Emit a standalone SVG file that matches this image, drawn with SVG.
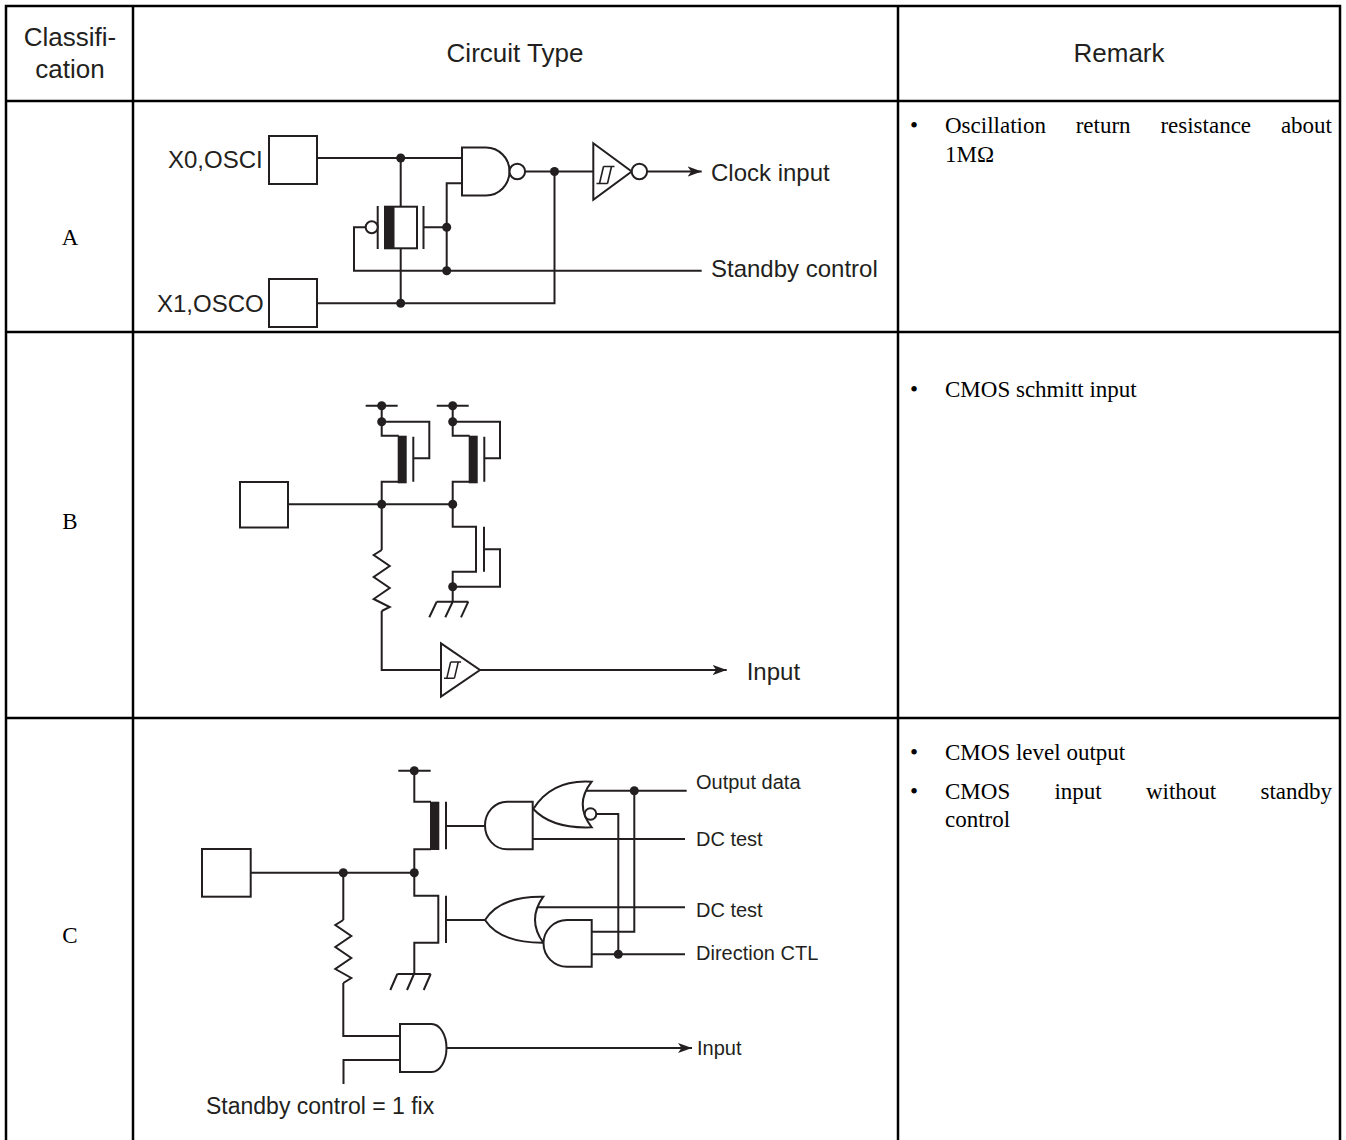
<svg xmlns="http://www.w3.org/2000/svg" width="1346" height="1140" viewBox="0 0 1346 1140">
<defs>
<style>
.w{fill:none;stroke:#231f20;stroke-width:2}
.g{fill:#fff;stroke:#231f20;stroke-width:2}
.k{fill:#231f20}
.tb{fill:none;stroke:#000;stroke-width:2.5}
.sans{font-family:"Liberation Sans",Arial,Helvetica,sans-serif;fill:#231f20}
.serif{font-family:"Liberation Serif","Times New Roman",serif;fill:#000;font-size:23px}
.h{font-size:26px}
.la{font-size:24px}
.lc{font-size:20px}
</style>
<marker id="arr" markerUnits="userSpaceOnUse" markerWidth="15" markerHeight="11" refX="14" refY="5.5" orient="auto"><path d="M0,0.5 L14,5.5 L0,10.5 L3.5,5.5 Z" fill="#231f20"/></marker>
<g id="hys"><path d="M0,17 H11 M3,17 L7,0 M11,17 L15,0 M7,0 H18" fill="none" stroke="#231f20" stroke-width="1.6"/></g>
</defs>
<rect width="1346" height="1140" fill="#fff"/>

<g id="table" class="tb">
<path d="M6,1142 V6 H1340 V1142"/>
<path d="M133,6 V1142 M898,6 V1142 M6,101 H1340 M6,332 H1340 M6,718 H1340"/>
</g>

<g id="header" class="sans h" text-anchor="middle">
<text x="70" y="46">Classifi-</text>
<text x="70" y="78">cation</text>
<text x="515" y="62">Circuit Type</text>
<text x="1119" y="62">Remark</text>
</g>

<g id="classes" class="serif" text-anchor="middle">
<text x="70" y="245">A</text>
<text x="70" y="529">B</text>
<text x="70" y="943">C</text>
</g>

<g id="remarks" class="serif">
<text x="910" y="133">•</text>
<text x="945" y="133">Oscillation</text>
<text x="1075.7" y="133">return</text>
<text x="1160.4" y="133">resistance</text>
<text x="1332" y="133" text-anchor="end">about</text>
<text x="945" y="162">1MΩ</text>
<text x="910" y="397">•</text>
<text x="945" y="397">CMOS schmitt input</text>
<text x="910" y="760">•</text>
<text x="945" y="760">CMOS level output</text>
<text x="910" y="799">•</text>
<text x="945" y="799">CMOS</text>
<text x="1054.4" y="799">input</text>
<text x="1145.9" y="799">without</text>
<text x="1332" y="799" text-anchor="end">standby</text>
<text x="945" y="827">control</text>
</g>

<!-- Row A -->
<g id="rowA">
<g id="a-x0"><rect class="g" x="269" y="136" width="48" height="48"/><text class="sans la" x="168" y="168">X0,OSCI</text></g>
<g id="a-x1"><rect class="g" x="269" y="279" width="48" height="48"/><text class="sans la" x="157" y="312">X1,OSCO</text></g>
<g id="a-nand"><path class="g" d="M462,147.5 H486 A23.5,24 0 0 1 486,195.5 H462 Z"/><circle class="g" cx="517.3" cy="171.5" r="7.8"/></g>
<g id="a-schmitt"><path class="g" d="M593.3,143.3 L631.7,171.5 L593.3,199.7 Z"/><use href="#hys" transform="translate(596.5,166.5)"/><circle class="g" cx="639.4" cy="171.5" r="7.7"/></g>
<g id="a-crystal">
<rect class="g" x="385" y="206.7" width="32" height="41.6"/>
<rect class="k" x="385" y="206.7" width="9.5" height="41.6"/>
<path class="w" d="M377.7,206 V249 M423.5,206 V249"/>
<circle class="g" cx="371.7" cy="227.3" r="6"/>
</g>
<g id="a-labels" class="sans la">
<text x="711" y="180.5">Clock input</text>
<text x="711" y="277">Standby control</text>
</g>
</g>

<g id="a-connectors">
<path class="w" d="M317,158 H462 M400.7,158 V206.7 M400.7,248.3 V303.3 M317,303.3 H554.5 V171.5 M525.1,171.5 H593.3 M365.7,227.3 H354 V270.7 H701.7 M423.5,227.3 H446.7 M462,183.3 H446.7 V270.7"/>
<path class="w" d="M647.1,171.5 H701.7" marker-end="url(#arr)"/>
<g class="k">
<circle cx="400.7" cy="158" r="4.5"/><circle cx="400.7" cy="303.3" r="4.5"/><circle cx="446.7" cy="227.3" r="4.5"/><circle cx="446.7" cy="270.7" r="4.5"/><circle cx="554.5" cy="171.5" r="4.5"/>
</g>
</g>

<!-- Row B -->
<g id="rowB">
<g id="b-pad"><rect class="g" x="240" y="482" width="48" height="45.5"/></g>
<g id="b-p1">
<path class="w" d="M365.7,405.7 H397.7 M381.7,405.7 V421.7 M381.7,421.7 H429.3 V458.3 H413.3 M381.7,421.7 V435.7 H398.7 M413.3,436.7 V481.7 M398.7,481.7 H381.7 V504.3"/>
<rect class="k" x="397.7" y="435.7" width="9" height="47.6"/>
</g>
<g id="b-p2">
<path class="w" d="M436.7,405.7 H468.7 M452.7,405.7 V421.7 M452.7,421.7 H500 V458.3 H484.3 M452.7,421.7 V435.7 H469.7 M484.3,436.7 V481.7 M469.7,481.7 H452.7 V504.3"/>
<rect class="k" x="468.7" y="435.7" width="9" height="47.6"/>
</g>
<g id="b-n1">
<path class="w" d="M452.7,504.3 V526.7 H476 V571.7 H452.7 V601.7 M484,526.7 V571.7 M484,549.3 H500 V586.7 H452.7"/>
</g>
<g id="b-gnd"><path class="w" d="M436.7,601.7 H468.3 M436.7,601.7 L429.3,617.3 M452.7,601.7 L445.3,617.3 M468.3,601.7 L461,617.3"/></g>
<g id="b-res"><path class="w" d="M381.7,550 L373.7,555 L389.7,566 L373.7,577 L389.7,588 L373.7,599 L389.7,607 L381.7,611"/></g>
<g id="b-schmitt"><path class="g" d="M441,643.3 L480,670 L441,696.7 Z"/><use href="#hys" transform="translate(444,662) scale(0.95)"/></g>
<text class="sans la" x="746.7" y="680">Input</text>
</g>

<g id="b-connectors">
<path class="w" d="M288,504.3 H452.7 M381.7,504.3 V550 M381.7,611 V670 H441"/>
<path class="w" d="M480,670 H726.7" marker-end="url(#arr)"/>
<g class="k">
<circle cx="381.7" cy="405.7" r="4.5"/><circle cx="381.7" cy="421.7" r="4.5"/><circle cx="452.7" cy="405.7" r="4.5"/><circle cx="452.7" cy="421.7" r="4.5"/>
<circle cx="381.7" cy="504.3" r="4.5"/><circle cx="452.7" cy="504.3" r="4.5"/><circle cx="452.7" cy="586.7" r="4.5"/>
</g>
</g>

<!-- Row C -->
<g id="rowC">
<g id="c-pad"><rect class="g" x="202" y="849" width="48.7" height="47.7"/></g>
<g id="c-p1">
<path class="w" d="M398.3,770.7 H430.7 M414.3,770.7 V801.7 H431 M446,801.7 V849.3 M431,849.3 H414.3 V872.7"/>
<rect class="k" x="430" y="801.7" width="9.3" height="48.3"/>
</g>
<g id="c-n1">
<path class="w" d="M414.3,872.7 V895.7 H438.3 V942.7 H414.3 V974 M446,895.7 V943"/>
</g>
<g id="c-gnd"><path class="w" d="M397.3,974 H430.7 M397.3,974 L390.3,990 M414,974 L407,990 M430.7,974 L423.7,990"/></g>
<g id="c-res"><path class="w" d="M343.3,920 L335.3,925 L351.3,936 L335.3,947 L351.3,958 L335.3,969 L351.3,978 L343.3,983"/></g>
<g id="c-and1"><path class="g" d="M532.7,801.7 H507 A22,23.8 0 0 0 507,849.3 H532.7 Z"/></g>
<g id="c-or1"><path class="g" d="M591.7,781.7 Q552,779 533.3,809 Q552,829 591.7,827.3 Q573.7,804.5 591.7,781.7 Z"/><circle class="g" cx="590.5" cy="814" r="5.8"/></g>
<g id="c-or2"><path class="g" d="M543.3,896.7 Q500,896 485,920 Q500,943 543.3,942.7 Q526.7,919.7 543.3,896.7 Z"/></g>
<g id="c-and2"><path class="g" d="M591.7,920 H567 A23.5,23.35 0 0 0 567,966.7 H591.7 Z"/></g>
<g id="c-and3"><path class="g" d="M400,1024 H431.5 A15,24 0 0 1 431.5,1072 H400 Z"/></g>
<g id="c-labels" class="sans lc">
<text x="696" y="789">Output data</text>
<text x="696" y="846">DC test</text>
<text x="696" y="917">DC test</text>
<text x="696" y="960">Direction CTL</text>
<text x="697" y="1055">Input</text>
<text x="206" y="1114" font-size="23">Standby control = 1 fix</text>
</g>
</g>

<g id="c-connectors">
<path class="w" d="M250.7,872.7 H414.3 M343.3,872.7 V920 M343.3,983 V1036 H400 M343.5,1084 V1060 H400 M446,826 H485 M446,920 H485 M586,790.7 H686.7 M596.3,814 H618.3 V954.3 M532.7,839 H685 M537.4,907.3 H685 M634.3,790.7 V931.7 H591.7 M591.7,954.3 H685"/>
<path class="w" d="M446.5,1048 H692" marker-end="url(#arr)"/>
<g class="k">
<circle cx="414.3" cy="770.7" r="4.5"/><circle cx="343.3" cy="872.7" r="4.5"/><circle cx="414.3" cy="872.7" r="4.5"/><circle cx="634.3" cy="790.7" r="4.5"/><circle cx="618.3" cy="954.3" r="4.5"/>
</g>
</g>
</svg>
